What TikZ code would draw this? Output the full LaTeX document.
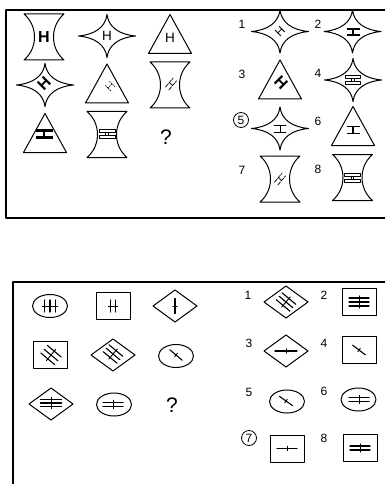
\documentclass[tikz,border=0pt]{standalone}
\usepackage{fontspec}
\setmainfont{Liberation Sans}
\begin{document}
\begin{tikzpicture}[x=1pt,y=-1pt,line join=round,line cap=round,
  fig/.style={line width=1pt},
  frame/.style={line width=1.2pt,line cap=butt},
  lab/.style={font=\fontsize{12}{12}\selectfont,inner sep=0pt},
  qmark/.style={font=\fontsize{21}{21}\selectfont,inner sep=0pt},
  hb/.style={font=\bfseries\fontsize{16}{16}\selectfont,inner sep=0pt},
  hr/.style={font=\fontsize{13.5}{13.5}\selectfont,inner sep=0pt},
  thinl/.style={line width=0.7pt},
  boldl/.style={line width=2.2pt,line cap=butt},
  medl/.style={line width=1.3pt,line cap=butt},
  pics/hourglass/.style={code={\draw[fig] (-20,-23) -- (20,-23) .. controls (6,-11) and (6,11) .. (20,23) -- (-20,23) .. controls (-6,11) and (-6,-11) .. (-20,-23) -- cycle;}},
  pics/star/.style={code={\draw[fig] (28.5,0) .. controls (12,-1.5) and (1.5,-9) .. (0,-21.5) .. controls (-1.5,-9) and (-12,-1.5) .. (-28.5,0) .. controls (-12,1.5) and (-1.5,9) .. (0,21.5) .. controls (1.5,9) and (12,1.5) .. (28.5,0) -- cycle;}},
  pics/tri/.style={code={\draw[fig] (0,-19.5) -- (21.5,19.5) -- (-21.5,19.5) -- cycle;}},
  pics/ell/.style={code={\draw[fig] (0,0) ellipse (17.5 and 11.5);}},
  pics/box/.style={code={\draw[fig] (-17,-13.5) rectangle (17,13.5);}},
  pics/dia/.style={code={\draw[fig] (-22,0) -- (0,-16) -- (22,0) -- (0,16) -- cycle;}},
  pics/hg/.style args={#1/#2/#3}{code={\draw[#3] (-#1,-#2) -- (#1,-#2) (-#1,#2) -- (#1,#2) (0,-#2) -- (0,#2);}},
  pics/hh/.style args={#1/#2}{code={
     \draw[line width=0.7pt] (-#1,{-#2-1.2}) rectangle (#1,{-#2+1.2});
     \draw[line width=0.7pt] (-#1,{#2-1.2}) rectangle (#1,{#2+1.2});
     \draw[line width=0.7pt] (-1.2,{-#2+1.2}) -- (-1.2,{#2-1.2}) (1.2,{-#2+1.2}) -- (1.2,{#2-1.2});}},
  pics/strk/.style args={#1/#2/#3}{code={
     \foreach \i in {1,...,#1}{\draw[line width=1.1pt] ({-#3/2},{(\i-(#1+1)/2)*#2}) -- ({#3/2},{(\i-(#1+1)/2)*#2});}
     \draw[line width=0.9pt] (0,{-((#1-1)*#2/2+2.2)}) -- (0,{(#1-1)*#2/2+2.2});}},
]
\useasboundingbox (0,0) rectangle (385,484);
\fill[white] (0,0) rectangle (385,484);
% frames
\draw[frame] (385,10) -- (6,10) -- (6,218) -- (385,218);
\draw[frame] (385,282) -- (13,282) -- (13,484);

% ---------- top matrix ----------
\pic at (44,37) {hourglass};  \node[hb] (t11) at (44,37) {H};
\pic at (107,36) {star};      \node[hr] (t12) at (107,36) {H};
\pic at (170,34) {tri};       \node[hr] (t13) at (170,38) {H};
\pic at (45,85) {star};       \node[hb,rotate=45] (t21) at (44,84) {H};
\pic at (107,83.5) {tri};     \pic[rotate=135] at (110,86) {hg=4/3/{thinl,dash pattern=on 1.2pt off 0.9pt}};
\pic at (170,85) {hourglass}; \pic[rotate=50] at (171,84) {hg=6/2.2/{thinl,dash pattern=on 4pt off 1pt}};
\pic at (45,133) {tri};       \pic at (44,134) {hg=8.5/3.5/boldl};
\pic at (107,134.5) {hourglass}; \pic at (107,134) {hh=8/3};
\node[qmark] (tq) at (166,137) {?};

% ---------- top answers ----------
\node[lab] (n1) at (242,24) {1}; \node[lab] (n2) at (318,24) {2};
\node[lab] (n3) at (242,74) {3}; \node[lab] (n4) at (318,73) {4};
\node[lab] (n5) at (241,120) {5}; \node[lab] (n6) at (318,121) {6};
\node[lab] (n7) at (242,170) {7}; \node[lab] (n8) at (318,169) {8};
\draw[line width=0.8pt] (n5) circle (7.5);
\pic at (280,31.5) {star};    \node[hr,font=\fontsize{12}{12}\selectfont,rotate=45] (a1) at (280,32) {H};
\pic at (352.5,31.5) {star};  \pic at (353,32) {hg=6.5/3/boldl};
\pic at (280,79.5) {tri};     \node[hb,rotate=-45] (a3) at (281,83) {H};
\pic at (353,80) {star};      \pic at (353,80) {hh=7.5/3};
\pic at (280,128.5) {star};   \pic at (280,129) {hg=6/3.5/thinl};
\pic at (353,126) {tri};      \pic at (353,130) {hg=6.5/3.5/medl};
\pic at (280,179) {hourglass}; \pic[rotate=50] at (280,179) {hg=6/2.2/{thinl,dash pattern=on 4pt off 1pt}};
\pic at (352.5,177.5) {hourglass}; \pic at (352.5,178) {hh=8/3};

% ---------- bottom matrix ----------
\pic at (50,306) {ell};   \pic[rotate=90] at (50,306) {strk=3/5.5/12};
\pic at (113,306) {box};  \pic[rotate=90] at (113,306) {strk=2/5/12};
\pic at (175,306) {dia};  \pic[rotate=90] at (175,306) {strk=1/0/15};
\pic at (50,355) {box};   \pic[rotate=-40] at (51,355) {strk=3/5/18};
\pic at (113,355) {dia};  \pic[rotate=-40] at (113,354) {strk=3/4.5/18};
\pic at (176,356) {ell};  \pic[rotate=-40] at (176,355) {strk=1/0/16};
\pic at (51,404) {dia};   \pic at (51,403) {strk=3/3.5/21};
\pic at (114,404.5) {ell}; \pic at (113,404.5) {strk=2/4/20};
\node[qmark] (bq) at (172,405) {?};

% ---------- bottom answers ----------
\node[lab] (m1) at (248,295) {1}; \node[lab] (m2) at (324,295) {2};
\node[lab] (m3) at (249,343) {3}; \node[lab] (m4) at (324,343) {4};
\node[lab] (m5) at (249,392) {5}; \node[lab] (m6) at (324,391) {6};
\node[lab] (m7) at (249,438) {7}; \node[lab] (m8) at (324,438) {8};
\draw[line width=0.8pt] (m7) circle (7.5);
\pic at (286,302) {dia};   \pic[rotate=-40] at (286,302) {strk=3/4.5/18};
\pic at (359,301.5) {box}; \pic at (359,302) {strk=3/4/20};
\pic at (286,351) {dia};   \pic at (286,351) {strk=1/0/22};
\pic at (359,350) {box};   \pic[rotate=-37] at (359,350) {strk=1/0/16};
\pic at (287,401.5) {ell}; \pic[rotate=-35] at (286,401) {strk=1/0/16};
\pic at (358.5,399.5) {ell}; \pic at (359,399.5) {strk=2/4/20};
\pic at (287,448.5) {box}; \pic at (287,448.5) {strk=1/0/20};
\pic at (360,447.5) {box}; \pic at (360,448) {strk=2/4/20};
\end{tikzpicture}
\end{document}
